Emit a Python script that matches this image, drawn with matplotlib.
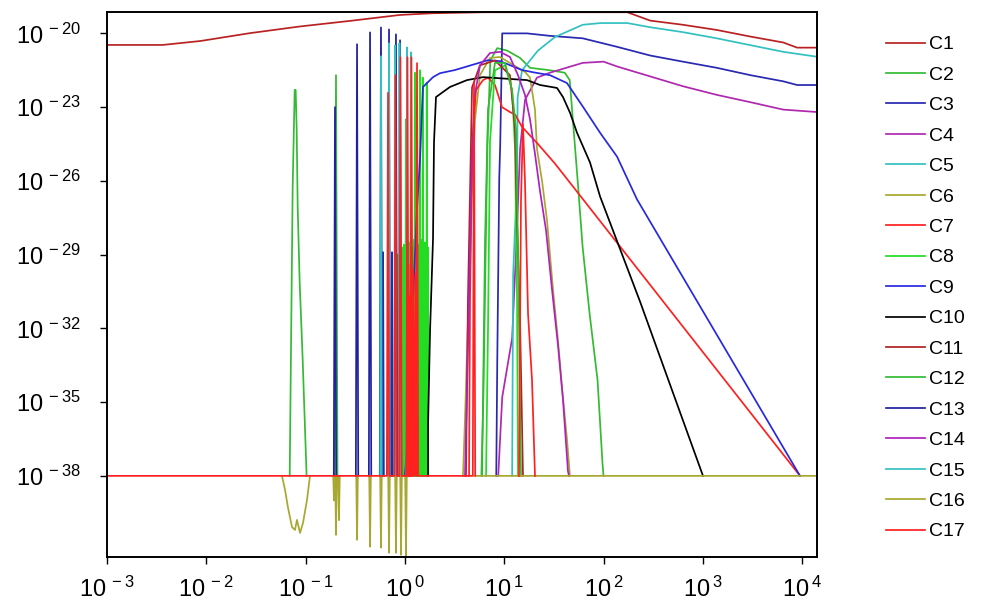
import numpy as np
import matplotlib.pyplot as plt
from matplotlib.ticker import NullLocator, FuncFormatter

plt.rcParams['font.family'] = ['Liberation Sans', 'DejaVu Sans']
plt.rcParams['mathtext.default'] = 'regular'

FLOOR = -38.0  # log10 of the clipping level of every curve

# all data below is log10(x), log10(y)
c1_x = [-3.0, -2.44, -2.06, -1.56, -1.06, -0.55, -0.05, 0.28, 0.80, 2.24, 2.47, 2.80, 3.14, 3.48, 3.81, 3.95, 4.15]
c1_y = [-20.47, -20.47, -20.31, -19.99, -19.72, -19.49, -19.25, -19.18, -19.14, -19.14, -19.48, -19.65, -19.86, -20.13, -20.37, -20.58, -20.58]

c2_left_x = [-1.16, -1.15, -1.13, -1.11, -1.10, -1.09, -1.08, -1.06, -1.03, -0.99]
c2_left_y = [-38, -34.0, -26.2, -22.3, -22.3, -23.9, -27.0, -30.1, -33.2, -38]
c2_x = [0.77, 0.79, 0.81, 0.83, 0.86, 0.93, 1.03, 1.16, 1.26, 1.46, 1.61, 1.66, 1.74, 1.79, 1.86, 1.94, 1.99, 2.0]
c2_y = [-38, -34.9, -29.7, -24.7, -21.1, -20.6, -20.7, -21.0, -21.4, -21.5, -21.6, -21.9, -26.0, -28.7, -31.4, -34.1, -37.5, -38]

c3_spk = [-0.22, -0.13, -0.06, 0.13]
c3_spk_top = [-28.9, -28.9, -29.2, -29.3]
c3_x = [0.92, 0.93, 0.95, 0.96, 0.98, 1.23, 1.46, 1.79, 2.14, 2.47, 2.80, 3.14, 3.48, 3.81, 3.95, 4.15]
c3_y = [-38, -33.4, -25.9, -24.5, -20.0, -20.0, -20.1, -20.2, -20.55, -20.9, -21.15, -21.4, -21.7, -21.95, -22.1, -22.1]

c4_x = [0.94, 0.98, 1.08, 1.12, 1.16, 1.21, 1.33, 1.46, 1.79, 2.0, 2.14, 2.47, 2.80, 3.14, 3.48, 3.81, 4.15]
c4_y = [-38, -34.8, -32.4, -28.8, -24.7, -22.7, -21.8, -21.6, -21.2, -21.15, -21.35, -21.75, -22.15, -22.5, -22.8, -23.1, -23.2]

c5_x = [1.08, 1.09, 1.13, 1.135, 1.18, 1.34, 1.51, 1.79, 1.97, 2.24, 2.47, 2.80, 3.14, 3.48, 3.81, 4.15]
c5_y = [-38, -29.8, -25.9, -22.6, -21.5, -20.7, -20.15, -19.65, -19.58, -19.58, -19.75, -19.95, -20.2, -20.48, -20.75, -20.95]

c6_x = [0.585, 0.605, 0.635, 0.656, 0.676, 0.706, 0.756, 0.857, 0.958, 1.139, 1.209, 1.260, 1.310, 1.330,
        1.381, 1.431, 1.491, 1.542, 1.582, 1.632, 1.662]
c6_y = [-38, -35.7, -31.7, -29.7, -26.5, -23.5, -21.7, -21.0, -20.96, -21.4, -21.57, -21.8, -23.1, -24.7,
        -26.0, -27.6, -30.4, -32.5, -34.4, -36.5, -38]

c7_x = [0.646, 0.656, 0.676, 0.716, 0.787, 0.837, 0.907, 0.978, 1.058, 1.109, 1.179, 1.340, 1.512, 3.979]
c7_y = [-38, -30.8, -24.7, -22.3, -21.9, -21.8, -22.1, -23.0, -23.2, -23.3, -23.8, -24.5, -25.3, -38]

c8_spk = [-0.09, -0.07, -0.06, -0.05, -0.04, -0.03, -0.02, -0.01, 0.00, 0.01, 0.02, 0.03, 0.04, 0.05, 0.06,
          0.07, 0.08, 0.09, 0.10, 0.11, 0.12, 0.13, 0.14, 0.15, 0.16, 0.17, 0.18, 0.19, 0.20, 0.21, 0.22, 0.23]
c8_spk_top = [-22.8, -29.0, -29.4, -28.8, -29.6, -28.7, -29.2, -28.6, -29.0, -23.5, -28.6, -29.1, -28.5, -28.9, -21.5,
              -28.7, -29.0, -28.4, -21.6, -28.8, -28.5, -29.0, -28.6, -21.5, -28.7, -28.4, -21.8, -28.9, -28.5, -28.8, -22.0, -28.7]
c8_x = [0.817, 0.837, 0.857, 0.907, 1.008, 1.079, 1.109, 1.129, 1.139]
c8_y = [-38, -32.0, -24.4, -21.5, -21.3, -22.3, -24.7, -30.8, -38]

c9_x = [0.001, 0.021, 0.031, 0.051, 0.082, 0.122, 0.152, 0.172, 0.182, 0.223, 0.283, 0.353, 0.505, 0.837,
        0.958, 1.179, 1.290, 1.461, 1.632, 1.794, 1.965, 2.136, 2.337, 3.979]
c9_y = [-38, -36.85, -34.83, -32.93, -30.79, -27.15, -25.13, -23.11, -22.18, -22.02, -21.78, -21.62, -21.49, -21.09,
        -21.13, -21.49, -21.58, -21.70, -22.02, -22.99, -24.04, -25.01, -26.75, -38]

c10_x = [0.233, 0.233, 0.253, 0.283, 0.293, 0.313, 0.454, 0.625, 0.787, 1.230, 1.361, 1.532, 1.592, 1.663,
         1.733, 1.864, 1.965, 2.368, 3.002]
c10_y = [-38, -35.96, -32.12, -28.36, -24.44, -22.59, -22.18, -21.90, -21.78, -21.90, -22.10, -22.22, -22.59, -23.23,
         -24.04, -25.25, -26.63, -30.91, -38]

c11_x = [0.615, 0.635, 0.676, 0.756, 0.907, 1.058, 1.109, 1.129, 1.159, 1.179, 1.189]
c11_y = [-38, -30.8, -22.2, -21.3, -21.1, -21.7, -23.9, -27.6, -31.6, -35.8, -38]

c12_spk = [-0.694]
c12_spk_top = [-21.7]
c12_x = [0.777, 0.787, 0.807, 0.837, 0.907, 1.008, 1.079, 1.119, 1.139, 1.159, 1.169]
c12_y = [-38, -34.8, -28.4, -23.1, -21.2, -21.2, -22.3, -23.9, -28.8, -34.8, -38]

c13_spk = [-0.704, -0.482, -0.351, -0.241, -0.160, -0.090, -0.049]
c13_spk_top = [-23.0, -20.44, -19.96, -19.76, -19.84, -20.04, -20.28]

c14_x = [0.605, 0.635, 0.666, 0.696, 0.756, 0.857, 0.958, 1.058, 1.139, 1.209, 1.260, 1.310, 1.360, 1.421,
         1.481, 1.542, 1.592, 1.642, 1.652]
c14_y = [-38, -32.9, -26.8, -22.7, -21.3, -20.8, -20.75, -20.96, -21.7, -22.5, -23.5, -24.9, -26.4, -28.0,
         -30.4, -32.7, -34.9, -37.8, -38]

c15_spk = [-0.241, -0.160, -0.100, -0.055, 0.021, 0.061]
c15_spk_top = [-20.93, -20.40, -20.50, -20.40, -20.57, -20.77]

# olive curve: dips below the floor, then the floor itself on the right
c16_v_x = [-1.238, -1.207, -1.177, -1.137, -1.107, -1.087, -1.056, -1.026, -0.986, -0.956]
c16_v_y = [-38, -38.57, -39.30, -40.08, -40.20, -39.79, -40.32, -39.91, -38.98, -38]
c16_dip = [-0.714, -0.694, -0.664, -0.482, -0.351, -0.241, -0.160, -0.090, -0.039, 0.011]
c16_dip_bot = [-39.0, -40.4, -39.8, -40.6, -40.88, -40.92, -41.13, -41.13, -41.21, -41.30]
c16_x = [0.70, 4.15]
c16_y = [-38, -38]

c17_spk = [-0.170, -0.095, -0.045, 0.026, 0.036, 0.051, 0.066, 0.081, 0.106, 0.122, 0.696]
c17_spk_top = [-22.42, -21.70, -20.97, -20.97, -29.4, -30.7, -20.97, -29.6, -29.8, -21.21, -22.0]
c17_x = [1.149, 1.169, 1.189, 1.209, 1.240, 1.280, 1.310]
c17_y = [-38, -26.8, -23.7, -26.0, -31.4, -34.1, -38]

colors = ['#B82222', '#33BB33', '#2828B0', '#B028B0', '#33C0C0', '#A8A830', '#FF2020', '#22DD22', '#2828E0',
          '#000000', '#B22222', '#33BB33', '#2020A0', '#B020C0', '#33C0C0', '#A8A830', '#FF2020']
labels = ['C%d' % i for i in range(1, 18)]

GAP = float('nan')


def spikes(centers, tops, half, joined=False):
    # each spike leaves the floor and comes back; unjoined spikes are split by NaN
    xs, ys = [], []
    for c, t in zip(centers, tops):
        xs += [c - half, c, c + half]
        ys += [FLOOR, t, FLOOR]
        if not joined:
            xs.append(GAP)
            ys.append(GAP)
    return xs, ys


s3x, s3y = spikes(c3_spk, c3_spk_top, 0.008)
s8x, s8y = spikes(c8_spk, c8_spk_top, 0.005, joined=True)
s12x, s12y = spikes(c12_spk, c12_spk_top, 0.015)
s13x, s13y = spikes(c13_spk, c13_spk_top, 0.012)
s15x, s15y = spikes(c15_spk, c15_spk_top, 0.008)
d16x, d16y = spikes(c16_dip, c16_dip_bot, 0.008)
s17x, s17y = spikes(c17_spk, c17_spk_top, 0.012, joined=True)

series = [
    (c1_x, c1_y),
    (c2_left_x + [GAP] + c2_x, c2_left_y + [GAP] + c2_y),
    (s3x + c3_x, s3y + c3_y),
    (c4_x, c4_y),
    (c5_x, c5_y),
    (c6_x, c6_y),
    (c7_x, c7_y),
    (s8x + [GAP] + c8_x, s8y + [GAP] + c8_y),
    (c9_x, c9_y),
    (c10_x, c10_y),
    (c11_x, c11_y),
    (s12x + c12_x, s12y + c12_y),
    (s13x, s13y),
    (c14_x, c14_y),
    (s15x, s15y),
    (c16_v_x + [GAP] + d16x + c16_x, c16_v_y + [GAP] + d16y + c16_y),
    ([-3.0] + s17x + [GAP] + c17_x, [FLOOR] + s17y + [GAP] + c17_y),
]

fig = plt.figure(figsize=(9.92, 6.13), dpi=100)
ax = fig.add_axes([107 / 992, 1 - 557 / 613, 710 / 992, 545 / 613])

for (xs, ys), col, lab in zip(series, colors, labels):
    ax.plot(10.0 ** np.array(xs), 10.0 ** np.array(ys), color=col, lw=1.25, label=lab)

ax.set_xscale('log')
ax.set_yscale('log')
ax.set_xlim(1e-3, 10 ** 4.15)
ax.set_ylim(10 ** -41.3, 10 ** -19.13)

x_exps = [-3, -2, -1, 0, 1, 2, 3, 4]
y_exps = [-20, -23, -26, -29, -32, -35, -38]
ax.set_xticks([10.0 ** k for k in x_exps])
ax.set_yticks([10.0 ** k for k in y_exps])
fmt = FuncFormatter(lambda v, pos: r'$10^{\,%d}$' % round(np.log10(v)))
ax.xaxis.set_major_formatter(fmt)
ax.yaxis.set_major_formatter(fmt)
ax.xaxis.set_minor_locator(NullLocator())
ax.yaxis.set_minor_locator(NullLocator())
ax.tick_params(direction='out', length=5, width=1, labelsize=17)
ax.tick_params(axis='y', pad=14)
ax.tick_params(axis='x', pad=9)
for sp in ax.spines.values():
    sp.set_linewidth(1.4)

ax.legend(loc='upper left', bbox_to_anchor=(876 / 992, 1 - 26 / 613), bbox_transform=fig.transFigure,
          frameon=False, fontsize=14, handlelength=2.0, handletextpad=0.25, labelspacing=0.66, borderpad=0)

fig.savefig('out.png', dpi=100)
